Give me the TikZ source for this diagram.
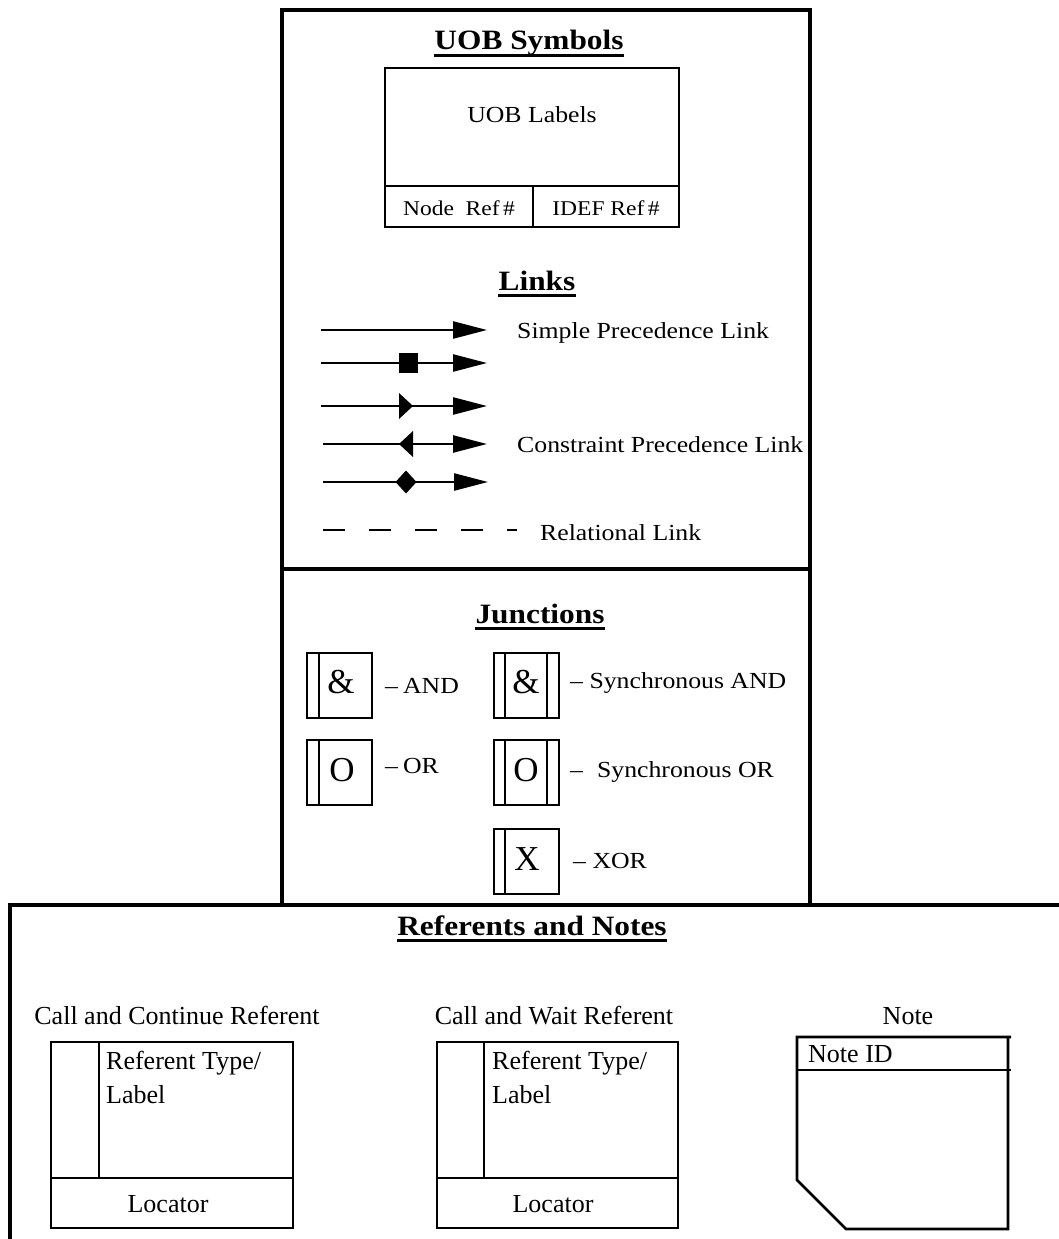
\documentclass[tikz,border=0pt]{standalone}
\usepackage{fontspec}
\setmainfont{Liberation Serif}
\newfontfamily\wf[FakeStretch=1.12]{Liberation Serif}
\usetikzlibrary{arrows.meta}
\begin{document}
\begin{tikzpicture}[x=1pt,y=-1pt,
  frame/.style={line width=4pt},
  box/.style={line width=2.6pt},
  lnk/.style={line width=2.5pt,-{Triangle[length=34pt,width=17pt]}},
  rel/.style={line width=2.6pt,dash pattern=on 22pt off 24pt},
  ttl/.style={inner sep=0pt,anchor=base,font=\wf\fontsize{28}{34}\selectfont\bfseries},
  ul/.style={line width=3pt},
  ltx/.style={inner sep=0pt,anchor=base west,font=\wf\fontsize{23}{28}\selectfont},
  ctx/.style={inner sep=0pt,anchor=base,font=\wf\fontsize{23}{28}\selectfont},
  small/.style={inner sep=0pt,anchor=base,font=\wf\fontsize{21}{26}\selectfont},
  glyph/.style={inner sep=0pt,font=\fontsize{35}{42}\selectfont},
  rtx/.style={inner sep=0pt,anchor=base,font=\fontsize{26}{31}\selectfont},
  rtxl/.style={inner sep=0pt,anchor=base west,font=\fontsize{26}{31}\selectfont},
]
\useasboundingbox (0,0) rectangle (1058,1239);
\fill[white] (0,0) rectangle (1058,1239);

% frames
\draw[frame] (282,10) rectangle (810,569);
\draw[frame] (282,569) rectangle (810,905);
\draw[frame] (10,1245) -- (10,905) -- (1062,905);

% ---------- UOB symbols ----------
\node[ttl] (tuob) at (529,50) {UOB Symbols};
\draw[ul] ([yshift=-5.5pt]tuob.base west) -- ([yshift=-5.5pt]tuob.base east);
\draw[box] (385,68) rectangle (679,227);
\draw[box] (385,186) -- (679,186);
\draw[box] (533,186) -- (533,227);
\node[ctx] (uobl) at (532,122) {UOB Labels};
\node[small] (nref) at (459,215) {Node\ \ Ref\,\#};
\node[small] (iref) at (606,215) {IDEF Ref\,\#};

% ---------- Links ----------
\node[ttl] (tlinks) at (537,290) {Links};
\draw[ul] ([yshift=-5.5pt]tlinks.base west) -- ([yshift=-5.5pt]tlinks.base east);

\coordinate (a1) at (321,330); \coordinate (b1) at (487,330);
\coordinate (a2) at (321,363); \coordinate (b2) at (487,363);
\coordinate (a3) at (321,406); \coordinate (b3) at (487,406);
\coordinate (a4) at (323,444); \coordinate (b4) at (487,444);
\coordinate (a5) at (323,482); \coordinate (b5) at (488,482);
\coordinate (a6) at (323,530); \coordinate (b6) at (517,530);
\draw[lnk] (a1) -- (b1);
\draw[lnk] (a2) -- (b2);
\draw[lnk] (a3) -- (b3);
\draw[lnk] (a4) -- (b4);
\draw[lnk] (a5) -- (b5);
\draw[rel] (a6) -- (b6);
\fill (399,353) rectangle (418,373);
\fill (399,393) -- (413,406) -- (399,419) -- cycle;
\fill (399,444) -- (413,431) -- (413,457) -- cycle;
\fill (395.5,482) -- (406,470.5) -- (416.5,482) -- (406,493.5) -- cycle;
\node[ltx] (simple) at (517,338) {Simple Precedence Link};
\node[ltx] (constr) at (517,452) {Constraint Precedence Link};
\node[ltx] (relat) at (540,540) {Relational Link};

% ---------- Junctions ----------
\node[ttl] (tjun) at (540,623) {Junctions};
\draw[ul] ([yshift=-5.5pt]tjun.base west) -- ([yshift=-5.5pt]tjun.base east);

\draw[box] (307,653) rectangle (372,718);
\draw[box] (319,653) -- (319,718);
\node[glyph] (gand) at (341,682) {\&};
\node[ltx] (land) at (385,693) {–\kern5pt AND};

\draw[box] (494,653) rectangle (559,718);
\draw[box] (505,653) -- (505,718);
\draw[box] (547,653) -- (547,718);
\node[glyph] (gsand) at (526,682) {\&};
\node[ltx] (lsand) at (570,688) {– Synchronous AND};

\draw[box] (307,740) rectangle (372,805);
\draw[box] (319,740) -- (319,805);
\node[glyph] (gor) at (342,770) {O};
\node[ltx] (lor) at (385,773) {–\kern5pt OR};

\draw[box] (494,740) rectangle (559,805);
\draw[box] (505,740) -- (505,805);
\draw[box] (547,740) -- (547,805);
\node[glyph] (gsor) at (526,770) {O};
\node[ltx] (lsor) at (570,777) {–\hskip 14pt Synchronous OR};

\draw[box] (494,829) rectangle (559,894);
\draw[box] (505,829) -- (505,894);
\node[glyph] (gxor) at (527,859) {X};
\node[ltx] (lxor) at (573,868) {– XOR};

% ---------- Referents and Notes ----------
\node[ttl] (tref) at (532,935) {Referents and Notes};
\draw[ul] ([yshift=-5.5pt]tref.base west) -- ([yshift=-5.5pt]tref.base east);

\node[rtx] (ccr) at (177,1024) {Call and Continue Referent};
\draw[box] (51,1042) rectangle (293,1228);
\draw[box] (51,1178) -- (293,1178);
\draw[box] (99,1042) -- (99,1178);
\node[rtxl] (rt1) at (106,1069) {Referent Type/};
\node[rtxl] (lb1) at (106,1103) {Label};
\node[rtx] (loc1) at (168,1212) {Locator};

\node[rtx] (cwr) at (554,1024) {Call and Wait Referent};
\draw[box] (437,1042) rectangle (678,1228);
\draw[box] (437,1178) -- (678,1178);
\draw[box] (484,1042) -- (484,1178);
\node[rtxl] (rt2) at (492,1069) {Referent Type/};
\node[rtxl] (lb2) at (492,1103) {Label};
\node[rtx] (loc2) at (553,1212) {Locator};

\node[rtx] (note) at (908,1024) {Note};
\draw[box] (1011,1037) -- (797,1037) -- (797,1180) -- (846,1229) -- (1008,1229) -- (1008,1037);
\draw[box] (797,1070) -- (1011,1070);
\node[rtxl] (nid) at (808,1062) {Note ID};
\end{tikzpicture}
\end{document}
